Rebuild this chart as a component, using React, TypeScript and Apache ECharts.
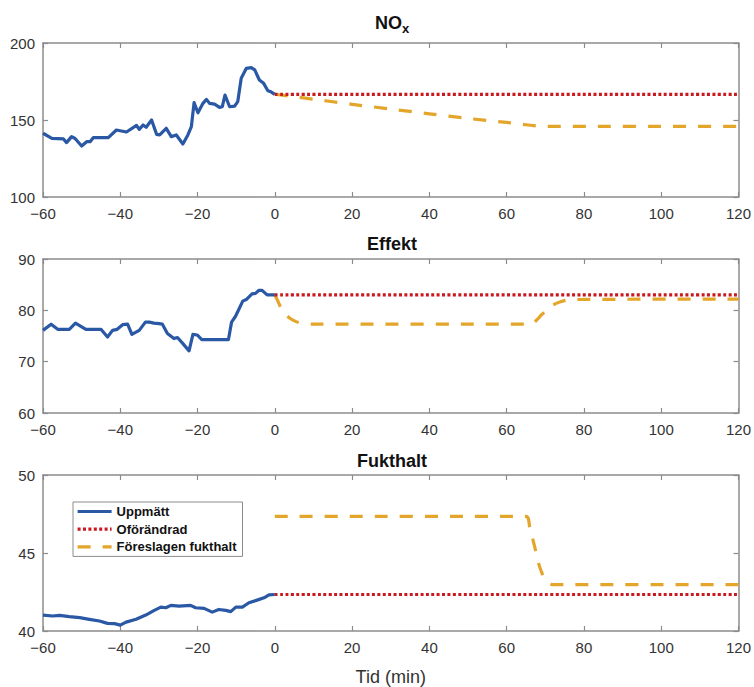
import React, { useEffect, useRef } from "react";
import * as echarts from "echarts";

// ---- Data ----
const noxTime = [-60, -57.7, -54.7, -53.9, -52.6, -51.7, -50, -48.7, -47.8, -47, -43.1, -41, -38.4, -35.8, -35.1, -34.1, -33.3, -31.9, -30.6, -29.8, -28.1, -26.8, -25.5, -23.8, -22.5, -21.6, -20.9, -19.9, -18.6, -17.7, -16.9, -15.6, -14.3, -13.6, -12.9, -11.7, -10.4, -9.6, -8.7, -7.4, -6.1, -5.2, -4, -2.9, -1.8, -1, 0];
const noxMeasured = [141.4, 138.1, 137.7, 135.3, 139.2, 138, 133.1, 135.9, 135.9, 138.5, 138.5, 143.5, 142.2, 146.5, 143.9, 146.8, 145.3, 150, 140.7, 140.3, 144.6, 139.2, 140.3, 134.4, 140.3, 145.7, 161.3, 154.7, 160.8, 163.4, 160.8, 160.3, 158.2, 158.6, 166.2, 158.6, 159, 161.9, 177.1, 183.5, 184, 182.5, 176, 173.8, 169, 168.3, 166.7];
const noxUnchangedTime = [0, 120];
const noxUnchanged = [166.7, 166.7];
const noxProposedTime = [0, 10, 20, 30, 40, 50, 60, 64, 67, 70, 120];
const noxProposed = [166.7, 163.5, 160.2, 157.1, 154.0, 151.0, 148.4, 147.2, 146.3, 145.9, 145.9];

const effTime = [-60, -57.9, -56.2, -53.2, -51.6, -48.9, -45, -43.3, -42, -40.8, -39.4, -38.1, -37, -35.1, -33.5, -32.5, -31.3, -30, -29.1, -27.8, -26.1, -25.2, -23.9, -22.2, -21.2, -20.1, -18.9, -12, -11.2, -10.2, -8.3, -7.4, -5.9, -5, -4.1, -3.3, -2, 0];
const effMeasured = [76.1, 77.3, 76.3, 76.3, 77.5, 76.3, 76.3, 74.8, 76.1, 76.3, 77.2, 77.3, 75.3, 76.1, 77.7, 77.7, 77.5, 77.4, 77.3, 75.5, 74.5, 74.7, 73.6, 72.1, 75.3, 75.2, 74.3, 74.3, 77.7, 78.8, 81.8, 82.1, 83.2, 83.3, 83.9, 83.9, 83, 83];
const effUnchangedTime = [0, 120];
const effUnchanged = [83, 83];
const effProposedTime = [0, 0.8, 1.5, 2.5, 4, 5.5, 7, 10, 66, 67, 68, 69, 70.3, 71.5, 73.3, 75, 77, 120];
const effProposed = [83, 81.8, 80.6, 79.4, 78.4, 77.8, 77.5, 77.3, 77.3, 77.6, 78.3, 79.1, 80.0, 80.8, 81.5, 81.9, 82.1, 82.2];

const fukTime = [-60, -57.5, -55.7, -53.2, -50.5, -48, -45.4, -43.3, -41.5, -40, -38.5, -35.9, -33.4, -31.2, -29.5, -28.2, -26.9, -24.8, -21.8, -20.5, -18.3, -16.2, -14.5, -12.7, -11.4, -10.1, -8.4, -6.7, -4.6, -2.8, -1.5, 0];
const fukMeasured = [41.02, 40.96, 41.0, 40.92, 40.86, 40.75, 40.64, 40.49, 40.47, 40.38, 40.57, 40.75, 41.02, 41.32, 41.53, 41.49, 41.64, 41.6, 41.64, 41.49, 41.45, 41.21, 41.38, 41.32, 41.24, 41.53, 41.53, 41.81, 41.98, 42.13, 42.32, 42.34];
const fukUnchangedTime = [0, 120];
const fukUnchanged = [42.34, 42.34];
const fukProposedTime = [0, 65, 66, 67.2, 68.3, 69, 69.7, 70.5, 71.3, 72, 120];
const fukProposed = [47.35, 47.35, 46.6, 45.45, 44.3, 43.8, 43.4, 43.15, 43.02, 42.97, 42.97];

const seriesNames = ["Uppmätt", "Oförändrad", "Föreslagen fukthalt"];
const xTicks = { min: -60, max: 120, interval: 20 };
const yRanges = [
  { min: 100, max: 200, interval: 50 },
  { min: 60, max: 90, interval: 10 },
  { min: 40, max: 50, interval: 5 },
];

const zip = (xs: number[], ys: number[]) => xs.map((x, i) => [x, ys[i]]);

const BLUE = "#2a58a5";
const RED = "#c8191f";
const ORANGE = "#e3a62a";
const AXIS = "#8c8c8c";
const FONT = "'Liberation Sans', Arial, Helvetica, sans-serif";

export default function App() {
  const ref = useRef<HTMLDivElement>(null);
  useEffect(() => {
    if (!ref.current) return;
    const chart = echarts.init(ref.current, undefined, { renderer: "svg" });

    const grids = [
      { left: 43, top: 43, width: 698, height: 154 },
      { left: 43, top: 259, width: 698, height: 154 },
      { left: 43, top: 475, width: 698, height: 157 },
    ];

    const minusFmt = (v: number) => String(v).replace("-", "\u2212");

    const xAxes: any[] = [];
    const yAxes: any[] = [];
    grids.forEach((_, gi) => {
      const common = {
        type: "value",
        gridIndex: gi,
        min: xTicks.min,
        max: xTicks.max,
        interval: xTicks.interval,
        splitLine: { show: false },
        axisLine: { show: true, onZero: false, lineStyle: { color: AXIS, width: 1.5 } },
        axisTick: { show: true, inside: true, length: 5, lineStyle: { color: AXIS, width: 1.2 } },
      };
      xAxes.push({
        ...common,
        position: "bottom",
        axisLabel: { show: true, color: "#333", fontSize: 15, fontFamily: FONT, margin: 9, formatter: minusFmt },
        ...(gi === 2
          ? {
              name: "Tid (min)",
              nameLocation: "middle",
              nameGap: 37,
              nameTextStyle: { fontSize: 18, color: "#333", fontFamily: FONT },
            }
          : {}),
      });
      xAxes.push({ ...common, position: "top", axisLabel: { show: false } });
      const yr = yRanges[gi];
      const ycommon = {
        type: "value",
        gridIndex: gi,
        min: yr.min,
        max: yr.max,
        interval: yr.interval,
        splitLine: { show: false },
        axisLine: { show: true, onZero: false, lineStyle: { color: AXIS, width: 1.5 } },
        axisTick: { show: true, inside: true, length: 5, lineStyle: { color: AXIS, width: 1.2 } },
      };
      yAxes.push({
        ...ycommon,
        position: "left",
        axisLabel: { show: true, color: "#333", fontSize: 15, fontFamily: FONT, margin: 8 },
      });
      yAxes.push({ ...ycommon, position: "right", axisLabel: { show: false } });
    });

    const mk = (gi: number, kind: number, data: number[][]) => {
      const styles = [
        { color: BLUE, width: 3.2, type: "solid" },
        { color: RED, width: 3.2, type: [3, 2.4] },
        { color: ORANGE, width: 3.2, type: [13, 12] },
      ];
      return {
        type: "line",
        name: seriesNames[kind],
        xAxisIndex: gi * 2,
        yAxisIndex: gi * 2,
        data,
        showSymbol: false,
        symbol: "none",
        smooth: kind === 0 ? false : 0.3,
        color: styles[kind].color,
        lineStyle: { ...styles[kind], join: "round", cap: "butt" },
        z: kind === 0 ? 3 : kind === 1 ? 4 : 2,
      };
    };

    const series = [
      mk(0, 2, zip(noxProposedTime, noxProposed)),
      mk(0, 1, zip(noxUnchangedTime, noxUnchanged)),
      mk(0, 0, zip(noxTime, noxMeasured)),
      mk(1, 2, zip(effProposedTime, effProposed)),
      mk(1, 1, zip(effUnchangedTime, effUnchanged)),
      mk(1, 0, zip(effTime, effMeasured)),
      mk(2, 0, zip(fukTime, fukMeasured)),
      mk(2, 1, zip(fukUnchangedTime, fukUnchanged)),
      mk(2, 2, zip(fukProposedTime, fukProposed)),
    ];

    const titleStyle = { fontSize: 18, fontWeight: "bold", color: "#111", fontFamily: FONT };
    chart.setOption({
      animation: false,
      backgroundColor: "#ffffff",
      title: [
        {
          text: "{a|NO}{b|x}",
          left: 392,
          top: 10,
          textAlign: "center",
          padding: 0,
          textStyle: {
            ...titleStyle,
            rich: {
              a: { ...titleStyle },
              b: { fontSize: 13, fontWeight: "bold", color: "#111", fontFamily: FONT, padding: [12, 0, 0, 0] },
            },
          },
        },
        { text: "Effekt", left: 392, top: 235, textAlign: "center", padding: 0, textStyle: titleStyle },
        { text: "Fukthalt", left: 392, top: 452, textAlign: "center", padding: 0, textStyle: titleStyle },
      ],
      legend: {
        data: seriesNames,
        orient: "vertical",
        left: 73,
        top: 502,
        itemWidth: 34,
        itemHeight: 14,
        itemGap: 4.7,
        padding: [3, 6, 3, 3],
        borderColor: AXIS,
        borderWidth: 1,
        backgroundColor: "#fff",
        selectedMode: false,
        itemStyle: { opacity: 0, color: "transparent", borderWidth: 0 },
        lineStyle: { width: 3.2 },
        textStyle: { fontSize: 13, fontWeight: "bold", color: "#111", fontFamily: FONT },
      },
      grid: grids,
      xAxis: xAxes,
      yAxis: yAxes,
      series,
    });
    return () => chart.dispose();
  }, []);
  return <div ref={ref} style={{ position: "absolute", left: 0, top: 0, width: 754, height: 687 }} />;
}
